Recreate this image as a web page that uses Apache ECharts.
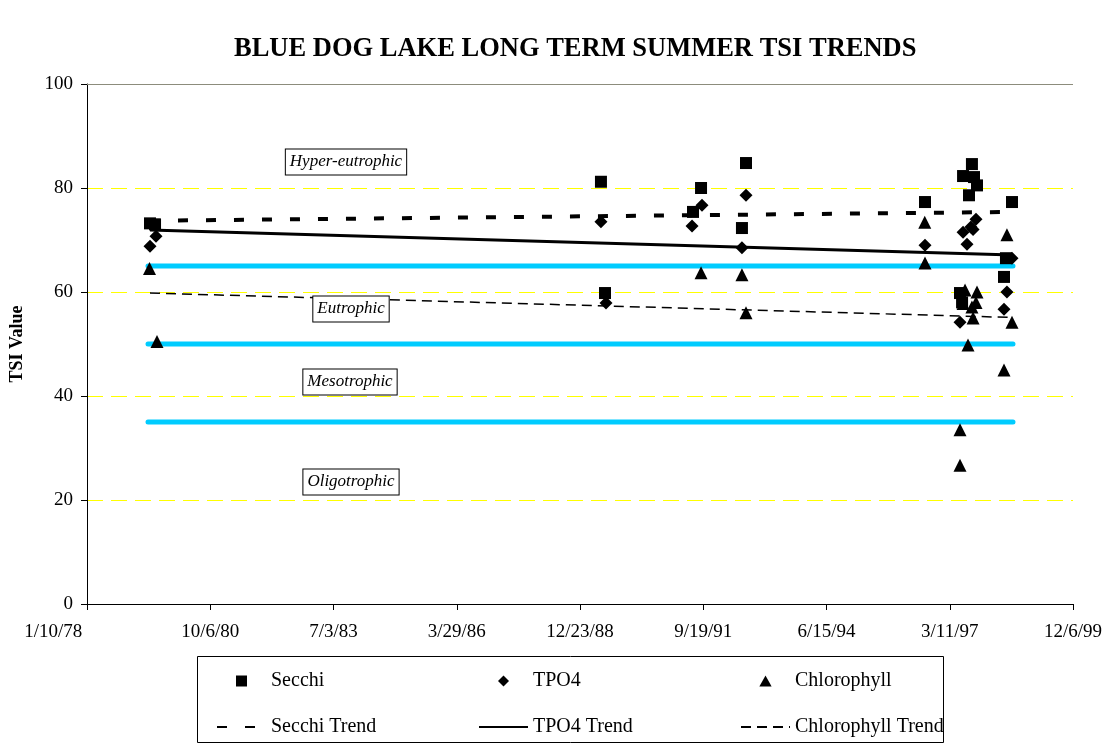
<!DOCTYPE html>
<html>
<head>
<meta charset="utf-8">
<script src="https://cdn.jsdelivr.net/npm/echarts@6/dist/echarts.min.js"></script>
<style>
html,body{margin:0;padding:0;background:#fff;}
#chart{width:1107px;height:744px;}
</style>
</head>
<body>
<div id="chart"></div>
<script>
// ---- data ----
const titleText = 'BLUE DOG LAKE LONG TERM SUMMER TSI TRENDS';
const yAxisName = 'TSI Value';
const xTickStart = '1978-01-10';   // first date tick (1/10/78), ticks every 1000 days

const secchi = [
  ['1979-06-05', 73.2], ['1979-07-16', 73.0],
  ['1989-06-11', 81.2], ['1989-07-14', 59.8],
  ['1991-06-28', 75.4], ['1991-09-01', 80.0],
  ['1992-07-29', 72.3], ['1992-08-31', 84.8],
  ['1996-08-22', 77.3],
  ['1997-06-02', 59.8], ['1997-06-19', 58.0], ['1997-06-27', 82.3],
  ['1997-08-14', 78.6], ['1997-09-07', 84.6], ['1997-09-24', 82.1], ['1997-10-18', 80.5],
  ['1998-05-25', 62.9], ['1998-06-10', 66.5], ['1998-07-29', 77.3]
];
const tpo4 = [
  ['1979-06-05', 68.8], ['1979-07-24', 70.7],
  ['1989-06-11', 73.5], ['1989-07-22', 57.9],
  ['1991-06-20', 72.7], ['1991-09-09', 76.7],
  ['1992-07-29', 68.5], ['1992-08-31', 78.6],
  ['1996-08-22', 69.0],
  ['1997-06-02', 54.2], ['1997-06-27', 71.5], ['1997-07-29', 69.2],
  ['1997-08-30', 72.5], ['1997-09-16', 72.0], ['1997-10-10', 74.0],
  ['1998-05-25', 56.7], ['1998-06-18', 60.0], ['1998-07-29', 66.5]
];
const chlorophyll = [
  ['1979-06-01', 64.5], ['1979-08-01', 50.5],
  ['1991-09-01', 63.7],
  ['1992-07-29', 63.3], ['1992-08-31', 56.0],
  ['1996-08-20', 73.4], ['1996-08-22', 65.6],
  ['1997-06-02', 33.5], ['1997-06-02', 26.7],
  ['1997-06-27', 57.8], ['1997-07-13', 60.4], ['1997-08-06', 49.8],
  ['1997-09-07', 57.1], ['1997-09-16', 55.0], ['1997-10-10', 58.0], ['1997-10-18', 60.0],
  ['1998-05-25', 45.0], ['1998-06-18', 71.0], ['1998-07-29', 54.2]
];
const trendDates = ['1979-06-05', '1998-08-06'];
const secchiTrend = [73.7, 75.4];
const tpo4Trend = [71.9, 67.1];
const chlorophyllTrend = [59.8, 55.1];
const boundaryDates = ['1979-05-20', '1998-08-06'];
const boundaryValues = [65, 50, 35];
const zoneLabels = ['Hyper-eutrophic', 'Eutrophic', 'Mesotrophic', 'Oligotrophic'];

// ---- helpers ----
function toUTC(s){ const p = s.split('-').map(Number); return Date.UTC(p[0], p[1]-1, p[2]); }
const BASE = toUTC(xTickStart);
function dayOf(s){ return Math.round((toUTC(s) - BASE) / 86400000); }
function fmt(v){
  const dt = new Date(BASE + v * 86400000);
  const s = (dt.getUTCMonth()+1) + '/' + dt.getUTCDate() + '/' + String(dt.getUTCFullYear() % 100).padStart(2, '0');
  return v === 0 ? s + ' ' : s;
}
const pts = arr => arr.map(d => [dayOf(d[0]), d[1]]);
const trend = vals => trendDates.map((d, i) => [dayOf(d), vals[i]]);

const FONT = 'Liberation Serif';
const chart = echarts.init(document.getElementById('chart'), null, {renderer: 'canvas'});

const ICON_SQUARE = 'path://M0,0L10,0L10,10L0,10Z';
const ICON_DIAMOND = 'path://M5,0L10,5L5,10L0,5Z';
const ICON_TRIANGLE = 'path://M5,0L10,9L0,9Z';
const noSymbol = {color: 'rgba(0,0,0,0)', borderColor: 'rgba(0,0,0,0)', borderWidth: 0, opacity: 0};

const series = [
  {name: 'Secchi', type: 'scatter', data: pts(secchi), symbol: 'rect', symbolSize: 12,
   itemStyle: {color: '#000', opacity: 1}, z: 10},
  {name: 'TPO4', type: 'scatter', data: pts(tpo4), symbol: 'diamond', symbolSize: 13,
   itemStyle: {color: '#000', opacity: 1}, z: 10},
  {name: 'Chlorophyll', type: 'scatter', data: pts(chlorophyll), symbol: 'triangle', symbolSize: 13,
   itemStyle: {color: '#000', opacity: 1}, z: 10},
  {name: 'Secchi Trend', type: 'line', data: trend(secchiTrend), symbol: 'none',
   lineStyle: {color: '#000', width: 4, type: [10, 18]}, itemStyle: {color: '#000'}, z: 5,
   markLine: {silent: true, symbol: 'none', label: {show: false},
     lineStyle: {color: '#8c8c7c', width: 1, type: 'solid'}, data: [{yAxis: 100}]}},
  {name: 'TPO4 Trend', type: 'line', data: trend(tpo4Trend), symbol: 'none',
   lineStyle: {color: '#000', width: 3, type: 'solid'}, itemStyle: {color: '#000'}, z: 5},
  {name: 'Chlorophyll Trend', type: 'line', data: trend(chlorophyllTrend), symbol: 'none',
   lineStyle: {color: '#000', width: 1.5, type: [10, 6]}, itemStyle: {color: '#000'}, z: 5}
];
boundaryValues.forEach((v, i) => {
  series.push({name: 'boundary' + i, type: 'line', symbol: 'none', z: 2,
    data: boundaryDates.map(d => [dayOf(d), v]),
    lineStyle: {color: '#00CCFF', width: 5, cap: 'round'}});
});

const legendCommon = {orient: 'vertical', top: 664, itemWidth: 49, itemHeight: 11, itemGap: 22,
  textStyle: {fontFamily: FONT, fontSize: 20, color: '#000', lineHeight: 24}, selectedMode: false};

const boxStyle = (txt) => ({
  text: txt, fill: '#000', font: 'italic 17px "Liberation Serif"',
  align: 'center', verticalAlign: 'middle',
  backgroundColor: '#fff', borderColor: '#000', borderWidth: 1,
  padding: [5, 4, 3, 4]
});

chart.setOption({
  animation: false,
  backgroundColor: '#fff',
  title: {text: titleText, left: 229, top: 31,
    textStyle: {fontFamily: FONT, fontWeight: 'bold', fontSize: 26.5, color: '#000'}},
  grid: {left: 87, right: 34, top: 84, bottom: 140},
  xAxis: {type: 'value', min: 0, max: 8000, interval: 1000,
    axisLine: {lineStyle: {color: '#000', width: 1}},
    axisTick: {show: true, inside: false, length: 6, lineStyle: {color: '#000'}},
    splitLine: {show: false},
    axisLabel: {formatter: fmt, color: '#000', fontFamily: FONT, fontSize: 19, margin: 19,
      alignMinLabel: 'right'}},
  yAxis: {type: 'value', min: 0, max: 100, interval: 20,
    name: yAxisName, nameLocation: 'middle', nameGap: 61, nameRotate: 90,
    nameTextStyle: {fontFamily: FONT, fontWeight: 'bold', fontSize: 18, color: '#000'},
    axisLine: {show: true, lineStyle: {color: '#000', width: 1}},
    axisTick: {show: true, inside: false, length: 6, lineStyle: {color: '#000'}},
    splitLine: {show: true, lineStyle: {color: ['rgba(0,0,0,0)', '#FFFF00', '#FFFF00', '#FFFF00', '#FFFF00', 'rgba(0,0,0,0)'], type: [16, 8], width: 1}},
    axisLabel: {color: '#000', fontFamily: FONT, fontSize: 19, margin: 14}},
  legend: [
    Object.assign({}, legendCommon, {left: 211, data: [
      {name: 'Secchi', icon: ICON_SQUARE},
      {name: 'Secchi Trend', itemStyle: noSymbol}]}),
    Object.assign({}, legendCommon, {left: 473, data: [
      {name: 'TPO4', icon: ICON_DIAMOND},
      {name: 'TPO4 Trend', itemStyle: noSymbol}]}),
    Object.assign({}, legendCommon, {left: 735, data: [
      {name: 'Chlorophyll', icon: ICON_TRIANGLE},
      {name: 'Chlorophyll Trend', itemStyle: noSymbol}]})
  ],
  graphic: [
    {type: 'rect', shape: {x: 197.5, y: 656.5, width: 746, height: 86}, z: 0,
     style: {fill: 'none', stroke: '#000', lineWidth: 1}},
    {type: 'text', x: 346, y: 162, z: 100, style: boxStyle(zoneLabels[0])},
    {type: 'text', x: 351, y: 309, z: 100, style: boxStyle(zoneLabels[1])},
    {type: 'text', x: 350, y: 382, z: 100, style: boxStyle(zoneLabels[2])},
    {type: 'text', x: 351, y: 482, z: 100, style: boxStyle(zoneLabels[3])}
  ],
  series: series
});
</script>
</body>
</html>
